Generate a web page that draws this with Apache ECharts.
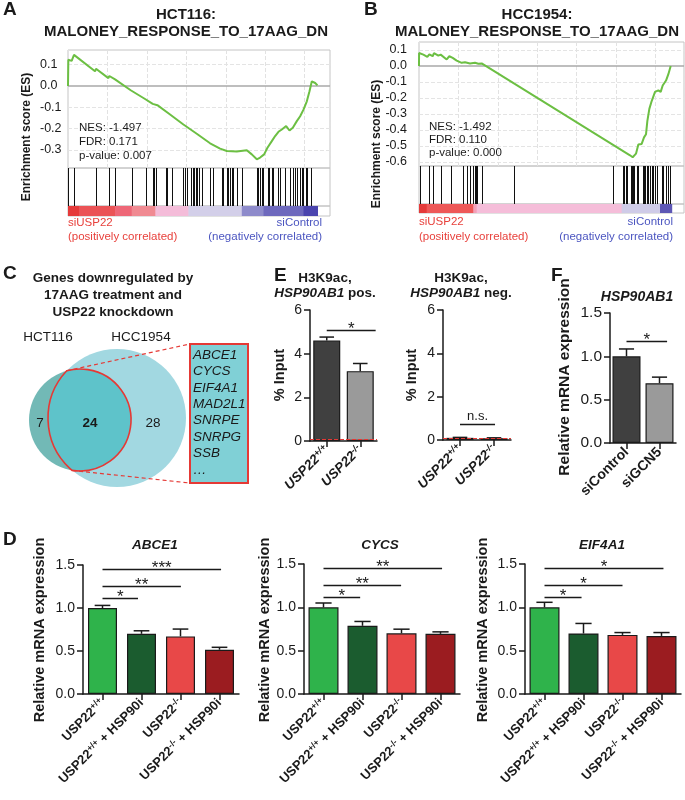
<!DOCTYPE html>
<html><head><meta charset="utf-8">
<script src="https://cdn.jsdelivr.net/npm/echarts@6/dist/echarts.min.js"></script>
<style>html,body{margin:0;padding:0;background:#fff}#c{width:685px;height:800px}</style>
</head><body><div id="c"></div>
<script>
// ================= DATA =================
// Panel A (HCT116 GSEA): running enrichment score [rank, ES]
const esCurveA = [[0,0],[21,0.123],[232,0.118],[380,0.146],[1712,0.069],[1775,0.081],[2557,0.037],[2620,0.047],[2980,0.031],[3000,0.039],[3973,-0.020],[4035,-0.012],[4882,-0.061],[4945,-0.053],[5367,-0.084],[5473,-0.081],[5664,-0.090],[6467,-0.134],[7312,-0.181],[8158,-0.224],[9003,-0.269],[9637,-0.294],[10060,-0.305],[10694,-0.308],[11327,-0.302],[11645,-0.321],[11962,-0.344],[12173,-0.336],[12426,-0.321],[12637,-0.290],[12913,-0.259],[13124,-0.235],[13335,-0.215],[13547,-0.204],[13821,-0.188],[14032,-0.209],[14244,-0.196],[14497,-0.165],[14709,-0.142],[14920,-0.111],[15132,-0.072],[15301,-0.025],[15449,0.022],[15660,0.014],[15808,0.003]];
const hitsA = [21,380,1775,2620,2980,4035,4945,5367,5473,5580,6213,6298,6615,7312,7417,7565,7776,7903,8009,8115,8200,8327,8475,9003,9214,9742,9848,10060,10165,10271,10377,10482,10694,11011,11962,12068,12173,12279,12384,12701,12765,12913,13018,13335,13441,13758,14075,14286,14392,14540,14709,14814,14920,15089,15174,15427];
const rankEdgesA = [0,719,2980,4035,5537,7629,11011,12384,14920,15810];
const statsA = ['NES: -1.497','FDR: 0.171','p-value: 0.007'];
const yTicksA = [-0.3,-0.2,-0.1,0,0.1];

// Panel B (HCC1954 GSEA)
const esCurveB = [[0,0],[5,0.081],[275,0.071],[528,0.057],[655,0.073],[866,0.061],[951,0.081],[1226,0.065],[1374,0.071],[1754,0.041],[1923,0.061],[2135,0.051],[2388,0.034],[2705,0.020],[2917,0.024],[3233,0.016],[3550,0.020],[3762,0.014],[3973,0.016],[13377,-0.558],[13546,-0.570],[13757,-0.548],[13905,-0.491],[14117,-0.487],[14265,-0.446],[14392,-0.426],[14476,-0.345],[14603,-0.268],[14751,-0.219],[14963,-0.162],[15174,-0.152],[15322,-0.162],[15449,-0.122],[15660,-0.091],[15809,-0.051],[15957,0.0]];
const hitsB = [63,655,909,1374,2008,2769,3064,3233,3402,3550,3614,3698,3973,6023,12277,12911,12996,13123,13200,13419,13482,13588,13650,13799,13841,13905,14180,14265,14328,14434,14540,14646,14751,14857,14963,15069,15386,15492,15661,15809,15915];
const rankEdgesB = [0,486,3445,3656,12848,15278,16020];
const statsB = ['NES: -1.492','FDR: 0.110','p-value: 0.000'];
const yTicksB = [-0.6,-0.5,-0.4,-0.3,-0.2,-0.1,0,0.1];

// Panel C (Venn)
const vennSets = ['HCT116','HCC1954'];
const vennCounts = [7,24,28];
const overlapGenes = ['ABCE1','CYCS','EIF4A1','MAD2L1','SNRPE','SNRPG','SSB','…'];

// Panel E
const eCats = ['USP22+/+','USP22-/-'];
const e1Vals = [4.6,3.2],  e1Err = [4.76,3.55];
const e2Vals = [0.10,0.08], e2Err = [0.12,0.10];
const eBackground = 0.08;
const e1Sig = [[0,1.46,5.09,'*']];
const e2Sig = [[0,1.03,0.74,'n.s.']];

// Panel F
const fCats = ['siControl','siGCN5'];
const fVals = [1.0,0.69], fErr = [1.085,0.76];
const fSig = [[0,1.23,1.18,'*']];

// Panel D
const dCats = ['USP22+/+','USP22+/+ + HSP90i','USP22-/-','USP22-/- + HSP90i'];
const abce1Vals = [1.0,0.70,0.67,0.515],  abce1Err = [1.03,0.735,0.755,0.543];
const cycsVals  = [1.0,0.787,0.70,0.694], cycsErr  = [1.05,0.837,0.748,0.717];
const eif4Vals  = [1.0,0.698,0.682,0.67], eif4Err  = [1.058,0.814,0.709,0.709];
const abce1Sig = [[0,0.91,1.113,'*'],[0,2.01,1.256,'**'],[0,3.04,1.449,'***']];
const cycsSig  = [[0,0.94,1.121,'*'],[0,1.99,1.255,'**'],[0,3.04,1.449,'**']];
const eif4Sig  = [[0,0.95,1.121,'*'],[0,2.0,1.255,'*'],[0,3.05,1.449,'*']];

// ================= STYLE / BUILD =================
const FONT = "'Liberation Sans', Arial, Helvetica, sans-serif";
const INK = '#1a1a1a';
const colorsA = ['#e63a3a','#eb5356','#ee6777','#f08a92','#f4bcd9','#d3cfe9','#8e8bcb','#6e69bd','#4b45ae'];
const colorsB = ['#e53a3a','#ee5858','#f3a0b8','#f5bdd9','#cfcbe8','#5d57b5'];
const dColors = ['#2fb34b','#1b5c2f','#e84848','#9b1c20'];
const eColors = ['#404040','#9a9a9a'];

const grids = [], xAxes = [], yAxes = [], series = [], graphics = [];
function addGrid(g){ grids.push(Object.assign({containLabel:false}, g)); return grids.length-1; }
function txt(x, y, text, o){
  o = o || {};
  const st = {text:text, fontSize:o.size||12, fontWeight:o.weight||'normal', fontStyle:o.fs||'normal',
    fontFamily:FONT, fill:o.color||INK, align:o.align||'left', verticalAlign:o.va||'middle'};
  if (o.rich) st.rich = o.rich;
  graphics.push({type:'text', x:x, y:y, rotation:o.rot||0, silent:true, z:100, style:st});
}

function gsea(cfg){
  const gEs = addGrid({left:cfg.left, top:cfg.top, width:cfg.width, height:cfg.esH, show:true, borderColor:'#c4c4c4', borderWidth:1});
  xAxes.push({gridIndex:gEs, type:'value', min:0, max:cfg.rankMax, interval:2500, axisLine:{show:false}, axisTick:{show:false}, axisLabel:{show:false},
    splitLine:{show:true, lineStyle:{color:'#e2e2e2', type:'dashed', width:1}}});
  yAxes.push({gridIndex:gEs, type:'value', min:cfg.yMin, max:cfg.yMax, axisLine:{show:false}, axisTick:{show:false}, splitLine:{show:false},
    axisLabel:{customValues:cfg.yTicks, formatter:function(v){return (Math.abs(v)<1e-9?0:v).toFixed(1);}, fontSize:12.5, color:INK, fontFamily:FONT, align:cfg.labelAlign, margin:cfg.labelMargin}});
  let xi = xAxes.length-1, yi = yAxes.length-1;
  series.push({type:'line', xAxisIndex:xi, yAxisIndex:yi, data:cfg.curve, showSymbol:false, symbol:'none', z:5,
    lineStyle:{color:'#6cbf43', width:2}, itemStyle:{color:'#6cbf43'},
    markLine:{silent:true, symbol:'none', label:{show:false}, lineStyle:{color:'#e4e4e4', type:'dashed', width:1},
      data: cfg.yTicks.filter(function(v){return v!==0;}).map(function(v){return {yAxis:v};}).concat([{yAxis:0, lineStyle:{color:'#a9a9a9', type:'solid', width:1.5}}])}});
  // hits
  const gH = addGrid({left:cfg.left, top:cfg.top+cfg.esH, width:cfg.width, height:cfg.hitH, show:true, borderColor:'#c4c4c4', borderWidth:1});
  xAxes.push({gridIndex:gH, type:'value', min:0, max:cfg.rankMax, show:false});
  yAxes.push({gridIndex:gH, type:'value', min:0, max:1, show:false});
  xi = xAxes.length-1; yi = yAxes.length-1;
  series.push({type:'custom', xAxisIndex:xi, yAxisIndex:yi, data:cfg.hits.map(function(r){return [r,0];}), silent:true,
    renderItem:function(p, api){
      const a = api.coord([api.value(0),0]), b = api.coord([api.value(0),1]);
      const x = Math.round(a[0])+0.5;
      return {type:'line', shape:{x1:x, y1:a[1], x2:x, y2:b[1]}, style:{stroke:'#111', lineWidth:1}};
    }});
  // ranked-list colour bar
  const gB = addGrid({left:cfg.left, top:cfg.top+cfg.esH+cfg.hitH, width:cfg.width, height:cfg.barH, show:true, borderColor:'#c4c4c4', borderWidth:1});
  xAxes.push({gridIndex:gB, type:'value', min:0, max:cfg.rankMax, show:false});
  yAxes.push({gridIndex:gB, type:'value', min:0, max:1, show:false});
  xi = xAxes.length-1; yi = yAxes.length-1;
  const segs = [];
  for (let i=0;i<cfg.edges.length-1;i++) segs.push([cfg.edges[i], cfg.edges[i+1], i]);
  series.push({type:'custom', xAxisIndex:xi, yAxisIndex:yi, data:segs, silent:true,
    renderItem:function(p, api){
      const a = api.coord([api.value(0),1]), b = api.coord([api.value(1),0]);
      return {type:'rect', shape:{x:a[0], y:a[1], width:b[0]-a[0]+0.5, height:b[1]-a[1]}, style:{fill:cfg.colors[api.value(2)]}};
    }});
}

gsea({left:68, top:50, width:262, esH:118, hitH:38, barH:10, rankMax:16600, yMin:-0.385, yMax:0.169, yTicks:yTicksA,
  labelAlign:'left', labelMargin:28, curve:esCurveA, hits:hitsA, edges:rankEdgesA, colors:colorsA});
gsea({left:419, top:42, width:265, esH:124, hitH:38, barH:9, rankMax:16800, yMin:-0.625, yMax:0.15, yTicks:yTicksB,
  labelAlign:'right', labelMargin:12, curve:esCurveB, hits:hitsB, edges:rankEdgesB, colors:colorsB});

// ---------- bar charts ----------
function catLabel(label){
  const m = label.match(/^USP22([+\-]\/[+\-])(.*)$/);
  if (!m) return '{b|'+label+'}';
  return '{b|USP22}{s|'+m[1]+'}' + (m[2] ? '{b|'+m[2]+'}' : '');
}
function barChart(cfg){
  const g = addGrid({left:cfg.left, top:cfg.top, width:cfg.width, height:cfg.height});
  const fs = cfg.xFont || 13;
  xAxes.push({gridIndex:g, type:'category', data:cfg.cats,
    axisLine:{show:true, lineStyle:{color:INK, width:1.5}},
    axisTick:{show:true, alignWithLabel:true, length:6, lineStyle:{color:INK, width:1.5}},
    axisLabel:{interval:0, rotate:45, margin:7, formatter:catLabel,
      rich:{b:{fontSize:fs, fontWeight:'bold', fontStyle:cfg.xItalic?'italic':'normal', fontFamily:FONT, color:INK},
            s:{fontSize:fs*0.68, fontWeight:'bold', fontStyle:cfg.xItalic?'italic':'normal', fontFamily:FONT, color:INK, verticalAlign:'top', padding:[0,0,6,0]}}}});
  yAxes.push({gridIndex:g, type:'value', min:0, max:cfg.max, interval:cfg.interval,
    axisLine:{show:true, lineStyle:{color:INK, width:1.5}},
    axisTick:{show:true, length:6, lineStyle:{color:INK, width:1.5}},
    splitLine:{show:false},
    axisLabel:{fontSize:cfg.tickFont||14, color:INK, fontFamily:FONT, margin:8, formatter:cfg.fmt}});
  const xi = xAxes.length-1, yi = yAxes.length-1;
  const barSeries = {type:'bar', xAxisIndex:xi, yAxisIndex:yi, barWidth:cfg.barWidth, z:2,
    data:cfg.vals.map(function(v,i){return {value:v, itemStyle:{color:cfg.colors[i]}};}),
    itemStyle:{borderColor:INK, borderWidth:1.2}};
  if (cfg.baseline != null) {
    barSeries.markLine = {silent:true, symbol:'none', label:{show:false}, lineStyle:{color:'#e53935', type:'dashed', width:1}, data:[{yAxis:cfg.baseline}]};
  }
  series.push(barSeries);
  series.push({type:'custom', xAxisIndex:xi, yAxisIndex:yi, z:3, silent:true,
    data:cfg.vals.map(function(v,i){return [i, v, cfg.errs[i]];}),
    renderItem:function(p, api){
      const a = api.coord([api.value(0), api.value(1)]), b = api.coord([api.value(0), api.value(2)]);
      const cap = cfg.barWidth*0.27;
      return {type:'group', children:[
        {type:'line', shape:{x1:a[0], y1:a[1], x2:b[0], y2:b[1]}, style:{stroke:INK, lineWidth:1.5}},
        {type:'line', shape:{x1:b[0]-cap, y1:b[1], x2:b[0]+cap, y2:b[1]}, style:{stroke:INK, lineWidth:1.5}}]};
    }});
  const sig = cfg.sig;
  series.push({type:'custom', xAxisIndex:xi, yAxisIndex:yi, z:4, silent:true,
    data:sig.map(function(s){return [s[0], s[2]];}),
    renderItem:function(p, api){
      const s = sig[p.dataIndex];
      const c0 = api.coord([0, s[2]]), c1 = api.coord([1, s[2]]);
      const step = c1[0]-c0[0];
      const x1 = c0[0] + step*s[0], x2 = c0[0] + step*s[1];
      const y = Math.round(c0[1])+0.5;
      const isStar = s[3].indexOf('*') === 0;
      return {type:'group', children:[
        {type:'line', shape:{x1:x1, y1:y, x2:x2, y2:y}, style:{stroke:INK, lineWidth:1.3}},
        {type:'text', x:(x1+x2)/2, y: isStar ? y-1 : y-2,
          style:{text:s[3], fontSize:isStar?17:13, fontFamily:FONT, fill:INK, align:'center', verticalAlign:isStar?'middle':'bottom'}}]};
    }});
}
const fmt1 = function(v){return v.toFixed(1);};

barChart({left:310, top:310, width:67, height:131, cats:eCats, vals:e1Vals, errs:e1Err, colors:eColors, barWidth:27,
  max:6, interval:2, sig:e1Sig, baseline:eBackground, xItalic:true, xFont:13.5});
barChart({left:443, top:310, width:68, height:130, cats:eCats, vals:e2Vals, errs:e2Err, colors:eColors, barWidth:27,
  max:6, interval:2, sig:e2Sig, baseline:eBackground, xItalic:true, xFont:13.5});
barChart({left:610, top:313, width:66, height:130, cats:fCats, vals:fVals, errs:fErr, colors:eColors, barWidth:28,
  max:1.5, interval:0.5, fmt:fmt1, sig:fSig, tickFont:15.5, xFont:14});
barChart({left:83, top:565, width:156, height:129, cats:dCats, vals:abce1Vals, errs:abce1Err, colors:dColors, barWidth:29,
  max:1.5, interval:0.5, fmt:fmt1, sig:abce1Sig, xFont:13});
barChart({left:304, top:564, width:156, height:130, cats:dCats, vals:cycsVals, errs:cycsErr, colors:dColors, barWidth:30,
  max:1.5, interval:0.5, fmt:fmt1, sig:cycsSig, xFont:13});
barChart({left:525, top:564, width:156, height:130, cats:dCats, vals:eif4Vals, errs:eif4Err, colors:dColors, barWidth:30,
  max:1.5, interval:0.5, fmt:fmt1, sig:eif4Sig, xFont:13});

// ---------- Venn (panel C) ----------
const venn = {c1:[80,420], r1:51, c2:[117,418], r2:69, box:[190,344,58,139]};
series.push({type:'custom', coordinateSystem:'none', data:[[0]], silent:true, z:1,
  renderItem:function(){
    const c1 = venn.c1, c2 = venn.c2, r1 = venn.r1, r2 = venn.r2;
    const dx = c2[0]-c1[0], dy = c2[1]-c1[1], d = Math.sqrt(dx*dx+dy*dy);
    const a = (r1*r1 - r2*r2 + d*d)/(2*d), h = Math.sqrt(r1*r1 - a*a);
    const mx = c1[0] + a*dx/d, my = c1[1] + a*dy/d;
    const P1 = [mx + h*dy/d, my - h*dx/d], P2 = [mx - h*dy/d, my + h*dx/d];
    const top = P1[1] < P2[1] ? P1 : P2, bot = P1[1] < P2[1] ? P2 : P1;
    const path = 'M'+top[0]+' '+top[1]+' A'+r2+' '+r2+' 0 0 0 '+bot[0]+' '+bot[1]+' A'+r1+' '+r1+' 0 1 0 '+top[0]+' '+top[1]+' Z';
    const b = venn.box;
    return {type:'group', children:[
      {type:'circle', shape:{cx:c1[0], cy:c1[1], r:r1}, style:{fill:'#72b9b6'}},
      {type:'circle', shape:{cx:c2[0], cy:c2[1], r:r2}, style:{fill:'#a2d8e1'}},
      {type:'path', shape:{pathData:path}, style:{fill:'#5ec3ca', stroke:'#e53935', lineWidth:1.6}},
      {type:'line', shape:{x1:top[0], y1:top[1], x2:b[0], y2:b[1]}, style:{stroke:'#e53935', lineWidth:1.2, lineDash:[4,3]}},
      {type:'line', shape:{x1:bot[0], y1:bot[1], x2:b[0], y2:b[1]+b[3]}, style:{stroke:'#e53935', lineWidth:1.2, lineDash:[4,3]}},
      {type:'rect', shape:{x:b[0], y:b[1], width:b[2], height:b[3]}, style:{fill:'#80d0d6', stroke:'#e53935', lineWidth:2}}
    ]};
  }});

// ================= TEXT =================
// panel letters
[['A',3,10],['B',364,10],['C',3,274],['D',3,540],['E',274,276],['F',551,276]].forEach(function(t){
  txt(t[1], t[2], t[0], {size:19, weight:'bold'});
});
// GSEA titles
txt(186, 15, 'HCT116:', {size:15, weight:'bold', align:'center'});
txt(186, 32, 'MALONEY_RESPONSE_TO_17AAG_DN', {size:15, weight:'bold', align:'center'});
txt(537, 15, 'HCC1954:', {size:15, weight:'bold', align:'center'});
txt(537, 32, 'MALONEY_RESPONSE_TO_17AAG_DN', {size:15, weight:'bold', align:'center'});
txt(27, 137, 'Enrichment score (ES)', {size:12, weight:'bold', align:'center', rot:Math.PI/2});
txt(377, 144, 'Enrichment score (ES)', {size:12, weight:'bold', align:'center', rot:Math.PI/2});
statsA.forEach(function(s,i){ txt(79, 128+i*13.8, s, {size:11.5}); });
statsB.forEach(function(s,i){ txt(429, 127+i*13, s, {size:11.5}); });
txt(68, 223, 'siUSP22', {size:11.5, color:'#e8413c'});
txt(68, 237, '(positively correlated)', {size:11.5, color:'#e8413c'});
txt(322, 223, 'siControl', {size:11.5, color:'#4b55c0', align:'right'});
txt(322, 237, '(negatively correlated)', {size:11.5, color:'#4b55c0', align:'right'});
txt(419, 222, 'siUSP22', {size:11.5, color:'#e8413c'});
txt(419, 237, '(positively correlated)', {size:11.5, color:'#e8413c'});
txt(673, 222, 'siControl', {size:11.5, color:'#4b55c0', align:'right'});
txt(673, 237, '(negatively correlated)', {size:11.5, color:'#4b55c0', align:'right'});

// Venn text
txt(113, 278, 'Genes downregulated by', {size:13.5, weight:'bold', align:'center'});
txt(113, 295, '17AAG treatment and', {size:13.5, weight:'bold', align:'center'});
txt(113, 312, 'USP22 knockdown', {size:13.5, weight:'bold', align:'center'});
txt(48, 337, vennSets[0], {size:13.5, align:'center'});
txt(141, 337, vennSets[1], {size:13.5, align:'center'});
txt(40, 423, String(vennCounts[0]), {size:13.5, align:'center'});
txt(90, 423, String(vennCounts[1]), {size:13.5, weight:'bold', align:'center'});
txt(153, 423, String(vennCounts[2]), {size:13.5, align:'center'});
overlapGenes.forEach(function(g,i){ txt(193, 355+i*16.4, g, {size:13.5, fs:'italic'}); });

// E / F titles
const richBI = {i:{fontSize:13.5, fontWeight:'bold', fontStyle:'italic', fontFamily:FONT, fill:INK}, n:{fontSize:13.5, fontWeight:'bold', fontFamily:FONT, fill:INK}};
txt(325, 278, 'H3K9ac,', {size:13.5, weight:'bold', align:'center'});
txt(325, 293, '{i|HSP90AB1}{n| pos.}', {size:13.5, weight:'bold', align:'center', rich:richBI});
txt(461, 278, 'H3K9ac,', {size:13.5, weight:'bold', align:'center'});
txt(461, 293, '{i|HSP90AB1}{n| neg.}', {size:13.5, weight:'bold', align:'center', rich:richBI});
txt(280, 375, '% Input', {size:14.5, weight:'bold', align:'center', rot:Math.PI/2});
txt(412, 375, '% Input', {size:14.5, weight:'bold', align:'center', rot:Math.PI/2});
txt(637, 297, 'HSP90AB1', {size:14, weight:'bold', fs:'italic', align:'center'});
txt(565, 377, 'Relative mRNA expression', {size:15.5, weight:'bold', align:'center', rot:Math.PI/2});

// D titles
txt(155, 545, 'ABCE1', {size:13.5, weight:'bold', fs:'italic', align:'center'});
txt(380, 545, 'CYCS', {size:13.5, weight:'bold', fs:'italic', align:'center'});
txt(602, 545, 'EIF4A1', {size:13.5, weight:'bold', fs:'italic', align:'center'});
txt(40, 630, 'Relative mRNA expression', {size:14.5, weight:'bold', align:'center', rot:Math.PI/2});
txt(265, 630, 'Relative mRNA expression', {size:14.5, weight:'bold', align:'center', rot:Math.PI/2});
txt(483, 630, 'Relative mRNA expression', {size:14.5, weight:'bold', align:'center', rot:Math.PI/2});

const chart = echarts.init(document.getElementById('c'), null, {renderer:'canvas', width:685, height:800});
chart.setOption({animation:false, backgroundColor:'#fff', textStyle:{fontFamily:FONT},
  grid:grids, xAxis:xAxes, yAxis:yAxes, series:series, graphic:{elements:graphics}});
</script></body></html>
